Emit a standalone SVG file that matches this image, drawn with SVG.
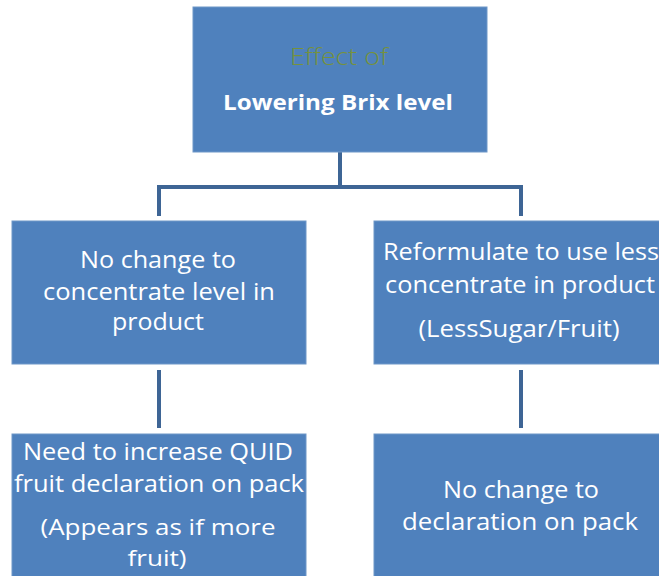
<svg xmlns="http://www.w3.org/2000/svg" width="659" height="576" viewBox="0 0 659 576">
<style>
.box{fill:#4f81bd;stroke:#6f97c8;stroke-width:1}
.t{font-family:"Open Sans","Liberation Sans",sans-serif;font-size:24px;fill:#ffffff;text-anchor:middle}
.s{font-size:22px}
.b{font-weight:bold;font-size:21px}
.g{fill:#76923c;font-weight:300}
.c{stroke:#3e6595;stroke-width:4;fill:none}
</style>
<rect width="659" height="576" fill="#ffffff"/>
<g id="connectors">
<path class="c" d="M340 152 V187 M159 216 V187 H521 V216"/>
<path class="c" d="M159 370 V428 M521 370 V428"/>
</g>
<g id="top">
<rect class="box" x="193" y="7" width="294" height="145"/>
<text class="t g" x="339" y="65" textLength="98" lengthAdjust="spacingAndGlyphs">Effect of</text>
<text class="t b" x="338" y="110" textLength="230" lengthAdjust="spacingAndGlyphs">Lowering Brix level</text>
</g>
<g id="left1">
<rect class="box" x="12" y="221" width="294" height="143"/>
<text class="t" x="158" y="268" textLength="156" lengthAdjust="spacingAndGlyphs">No change to</text>
<text class="t" x="159" y="300" textLength="232" lengthAdjust="spacingAndGlyphs">concentrate level in</text>
<text class="t" x="158" y="330" textLength="92" lengthAdjust="spacingAndGlyphs">product</text>
</g>
<g id="right1">
<rect class="box" x="374" y="221" width="290" height="143"/>
<text class="t" x="521" y="260" textLength="276" lengthAdjust="spacingAndGlyphs">Reformulate to use less</text>
<text class="t" x="520" y="293" textLength="270" lengthAdjust="spacingAndGlyphs">concentrate in product</text>
<text class="t" x="519" y="337" textLength="201" lengthAdjust="spacingAndGlyphs">(LessSugar/Fruit)</text>
</g>
<g id="left2">
<rect class="box" x="12" y="434" width="294" height="150"/>
<text class="t" x="158" y="460" textLength="270" lengthAdjust="spacingAndGlyphs">Need to increase QUID</text>
<text class="t" x="159" y="492" textLength="290" lengthAdjust="spacingAndGlyphs">fruit declaration on pack</text>
<text class="t s" x="158" y="535" textLength="235" lengthAdjust="spacingAndGlyphs">(Appears as if more</text>
<text class="t s" x="157" y="566" textLength="59" lengthAdjust="spacingAndGlyphs">fruit)</text>
</g>
<g id="right2">
<rect class="box" x="374" y="434" width="290" height="150"/>
<text class="t" x="521" y="498" textLength="156" lengthAdjust="spacingAndGlyphs">No change to</text>
<text class="t" x="520" y="530" textLength="236" lengthAdjust="spacingAndGlyphs">declaration on pack</text>
</g>
</svg>
